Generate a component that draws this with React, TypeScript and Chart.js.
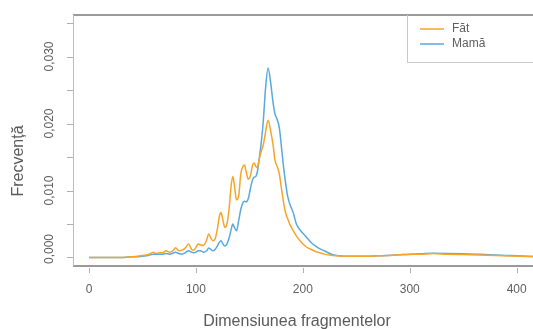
import React, { useEffect, useRef } from "react";
import { Chart, registerables } from "chart.js";

Chart.register(...registerables);

// Fragment size (bp)
const sizes = [
  0, 10, 20, 30, 40, 45, 50, 55, 60, 63, 66, 69, 72, 75, 78, 81, 84, 87, 90, 93, 96, 98,
  100, 102, 104, 107, 110, 112, 114, 116, 118, 120, 122, 123.5, 125, 127, 129, 131, 133,
  134.5, 136, 138, 140, 142, 144, 145.5, 147, 149, 151, 153, 154.5, 156, 157.5, 159, 161,
  163, 165, 167.5, 170, 172, 174, 176, 178, 180, 182, 184, 186, 188, 191, 194, 198, 203,
  208, 212, 216, 220, 228, 240, 250, 260, 270, 280, 290, 300, 310, 322, 335, 350, 365,
  380, 395, 410, 418,
];

// Fetal density
const fetus = [
  0, 0, 0, 0, 0.0001, 0.0002, 0.0003, 0.0004, 0.0008, 0.0006, 0.0007, 0.0007, 0.001, 0.0008,
  0.0009, 0.00145, 0.001, 0.0011, 0.0014, 0.002, 0.0012, 0.0011, 0.0015, 0.002, 0.0019,
  0.0018, 0.0026, 0.0035, 0.0029, 0.0025, 0.0028, 0.0042, 0.0062, 0.0067, 0.0058, 0.0045,
  0.005, 0.0072, 0.0108, 0.0121, 0.0108, 0.0086, 0.0092, 0.0125, 0.0136, 0.0138, 0.0128,
  0.0117, 0.0122, 0.0138, 0.0141, 0.0136, 0.0134, 0.0145, 0.0158, 0.0168, 0.0186, 0.0205,
  0.0188, 0.017, 0.0145, 0.0136, 0.0125, 0.0103, 0.0082, 0.0066, 0.0057, 0.0049, 0.004,
  0.0032, 0.0024, 0.0016, 0.0012, 0.0009, 0.0007, 0.0005, 0.0003, 0.0002, 0.0002, 0.0002,
  0.00025, 0.0003, 0.0004, 0.00045, 0.0005, 0.00058, 0.0005, 0.00043, 0.00036, 0.0003,
  0.00022, 0.00015, 0.00012,
];

// Maternal density
const mother = [
  0, 0, 0, 0, 0.0001, 0.0001, 0.0002, 0.0003, 0.0005, 0.0005, 0.0005, 0.0005, 0.0006, 0.0005,
  0.0006, 0.0008, 0.0006, 0.0005, 0.0007, 0.001, 0.0008, 0.0007, 0.0008, 0.001, 0.001,
  0.0008, 0.001, 0.0014, 0.0012, 0.001, 0.0012, 0.0017, 0.0023, 0.0025, 0.0021, 0.0017,
  0.002, 0.0029, 0.0042, 0.005, 0.0045, 0.004, 0.0055, 0.0072, 0.0082, 0.0084, 0.0083,
  0.0088, 0.0103, 0.0116, 0.012, 0.0121, 0.0128, 0.0145, 0.017, 0.0203, 0.025, 0.0283,
  0.026, 0.0233, 0.0214, 0.0206, 0.0194, 0.0165, 0.0135, 0.011, 0.009, 0.0079, 0.0067,
  0.005, 0.004, 0.0031, 0.0022, 0.0017, 0.0013, 0.001, 0.0004, 0.0002, 0.0002, 0.0002,
  0.00025, 0.0003, 0.0004, 0.0005, 0.00055, 0.00062, 0.0006, 0.00055, 0.00047, 0.00038,
  0.00028, 0.00018, 0.00014,
];

const seriesNames = ["Făt", "Mamă"];
const seriesColors = ["#F6A52A", "#58A9DE"];
const xTicks = [0, 100, 200, 300, 400];
const yTicks = [0, 0.005, 0.01, 0.015, 0.02, 0.025, 0.03, 0.035];
const yLabelTicks = [0, 0.01, 0.02, 0.03];
const xTitle = "Dimensiunea fragmentelor";
const yTitle = "Frecvență";

const FONT = "'Liberation Sans', Arial, sans-serif";

const decorPlugin = {
  id: "decor",
  afterDraw(chart: any) {
    const ctx = chart.ctx as CanvasRenderingContext2D;
    const { left, right, top, bottom } = chart.chartArea;
    const xs = chart.scales.x;
    const ys = chart.scales.y;
    ctx.save();
    // box lines
    ctx.strokeStyle = "#9a9a9a";
    ctx.lineWidth = 2;
    ctx.beginPath();
    ctx.moveTo(left, top);
    ctx.lineTo(right + 2, top);
    ctx.moveTo(left, bottom);
    ctx.lineTo(right + 2, bottom);
    ctx.stroke();
    ctx.strokeStyle = "#bdbdbd";
    ctx.lineWidth = 1;
    ctx.beginPath();
    ctx.moveTo(left + 0.5, top);
    ctx.lineTo(left + 0.5, bottom);
    ctx.stroke();

    // y ticks
    ctx.strokeStyle = "#b0b0b0";
    ctx.beginPath();
    for (const v of yTicks) {
      const y = Math.round(ys.getPixelForValue(v)) + 0.5;
      ctx.moveTo(left - 6, y);
      ctx.lineTo(left, y);
    }
    // x ticks
    for (const v of xTicks) {
      const x = Math.round(xs.getPixelForValue(v)) + 0.5;
      ctx.moveTo(x, bottom + 2);
      ctx.lineTo(x, bottom + 7);
    }
    ctx.stroke();

    // x tick labels
    ctx.fillStyle = "#5e5e5e";
    ctx.font = `12px ${FONT}`;
    ctx.textAlign = "center";
    ctx.textBaseline = "middle";
    for (const v of xTicks) {
      ctx.fillText(String(v), xs.getPixelForValue(v), bottom + 24);
    }
    // y tick labels (rotated)
    for (const v of yLabelTicks) {
      const y = Math.min(ys.getPixelForValue(v), bottom - 17);
      ctx.save();
      ctx.translate(left - 23, y);
      ctx.rotate(-Math.PI / 2);
      ctx.fillText(v.toFixed(3).replace(".", ","), 0, 0);
      ctx.restore();
    }
    // titles
    ctx.font = `16px ${FONT}`;
    ctx.fillStyle = "#5a5a5a";
    ctx.fillText(xTitle, 297, bottom + 56);
    ctx.save();
    ctx.translate(19, 161);
    ctx.rotate(-Math.PI / 2);
    ctx.fillText(yTitle, 0, 0);
    ctx.restore();

    // legend
    const lx = 407;
    const ly = top;
    const lb = 62;
    ctx.strokeStyle = "#c8c8c8";
    ctx.lineWidth = 1;
    ctx.beginPath();
    ctx.moveTo(lx + 0.5, ly);
    ctx.lineTo(lx + 0.5, lb + 0.5);
    ctx.lineTo(right + 2, lb + 0.5);
    ctx.stroke();
    ctx.font = `12px ${FONT}`;
    ctx.textAlign = "left";
    chart.data.datasets.forEach((ds: any, i: number) => {
      const yy = 29 + i * 15;
      ctx.strokeStyle = ds.borderColor;
      ctx.lineWidth = 1.5;
      ctx.beginPath();
      ctx.moveTo(420, yy);
      ctx.lineTo(444, yy);
      ctx.stroke();
      ctx.fillStyle = "#5e5e5e";
      ctx.fillText(ds.label, 452, yy);
    });
    ctx.restore();
  },
};

export default function App() {
  const ref = useRef<HTMLCanvasElement | null>(null);
  useEffect(() => {
    if (!ref.current) return;
    const chart = new Chart(ref.current, {
      type: "line",
      data: {
        datasets: [
          {
            label: seriesNames[0],
            data: sizes.map((x, i) => ({ x, y: fetus[i] })),
            borderColor: seriesColors[0],
            borderWidth: 1.5,
            pointRadius: 0,
            cubicInterpolationMode: "monotone",
            fill: false,
          },
          {
            label: seriesNames[1],
            data: sizes.map((x, i) => ({ x, y: mother[i] })),
            borderColor: seriesColors[1],
            borderWidth: 1.5,
            pointRadius: 0,
            cubicInterpolationMode: "monotone",
            fill: false,
          },
        ],
      },
      options: {
        animation: false,
        responsive: false,
        layout: { padding: { left: 73, top: 15, right: 0, bottom: 63 } },
        plugins: { legend: { display: false }, tooltip: { enabled: false } },
        scales: {
          x: { type: "linear", min: -14.97, max: 415.3, display: false },
          y: { type: "linear", min: -0.00127, max: 0.0362, display: false },
        },
      },
      plugins: [decorPlugin],
    });
    return () => chart.destroy();
  }, []);
  return (
    <canvas
      ref={ref}
      width={533}
      height={329}
      style={{ position: "absolute", left: 0, top: 0, width: 533, height: 329, display: "block" }}
    />
  );
}
